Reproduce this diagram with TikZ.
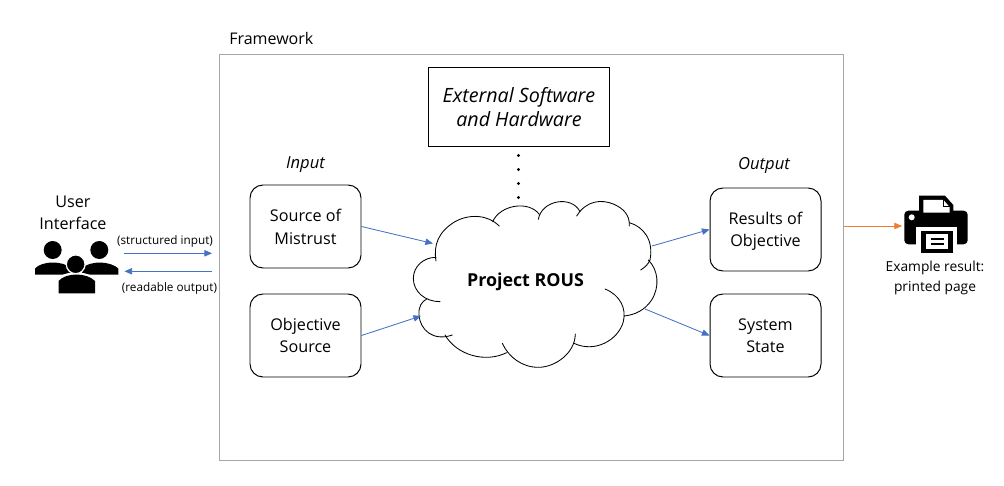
\documentclass[tikz,border=0pt]{standalone}
\usepackage{fontspec}
\setmainfont{Open Sans}
\usetikzlibrary{arrows.meta,positioning}
\definecolor{linkblue}{HTML}{4472C4}
\definecolor{linkorange}{HTML}{ED7D31}
\definecolor{framegray}{HTML}{A6A6A6}
\tikzset{
  boxfont/.style={font=\fontsize{11.5}{15.8}\selectfont, align=center},
  itfont/.style={font=\fontsize{11.8}{15.8}\selectfont\itshape},
  smallfont/.style={font=\fontsize{8.35}{10}\selectfont, align=center},
  stagebox/.style={draw=black, line width=0.7pt, rounded corners=3.25mm, minimum width=27.75mm, minimum height=20.75mm, inner sep=0pt, boxfont},
  cloudline/.style={line width=0.6pt, line cap=round},
  bluelink/.style={draw=linkblue, line width=0.6pt, -{Triangle[length=1.9mm,width=1.6mm]}},
  orangelink/.style={draw=linkorange, line width=0.4pt, -{Triangle[length=1.9mm,width=1.6mm]}},
}
\begin{document}
\begin{tikzpicture}[x=0.25mm, y=-0.25mm]
\useasboundingbox (0,0) rectangle (1004,486);

% === FRAMEWORK ===
\node[draw=framegray, line width=0.7pt, minimum width=155.9mm, minimum height=101.4mm, inner sep=0pt] (framework) at (531.25,257.25) {};
\node[boxfont, anchor=west, inner sep=0pt, font=\fontsize{11.4}{15.8}\selectfont] (frameworklabel) at (229,38.5) {Framework};

\node[draw=black, line width=0.7pt, minimum width=45.25mm, minimum height=19.75mm, inner sep=0pt, align=center, font=\fontsize{14}{17}\selectfont\itshape] (external) at (519,107) {External Software\\and Hardware};
\foreach \y in {155.5,169.5,183.5,197.5}
  \fill (518.5,\y) circle (1.7);

% === INPUT / OUTPUT BOXES ===
\node[itfont] (inputlabel) at (305.5,165) {Input};
\node[stagebox] (mistrust) at (305.5,226.5) {\rule{0pt}{9.4pt}Source of\\Mistrust};
\node[stagebox] (objective) at (305.5,335.5) {Objective\\Source};
\node[itfont] (outputlabel) at (764,165) {Output};
\node[stagebox] (results) at (765.5,229.5) {\rule{0pt}{11.2pt}Results of\\Objective};
\node[stagebox] (state) at (765.5,335.5) {System\\State};

% === CLOUD ===
\begin{scope}[shift={(400,180)}, x=0.08333mm, y=-0.08333mm]
\draw[cloudline] (108,243) .. controls (100,195) and (115,155) .. (165,125) .. controls (210,100) and (265,105) .. (298,138);
\draw[cloudline] (278,125) .. controls (300,75) and (385,60) .. (418,103);
\draw[cloudline] (415,118) .. controls (425,60) and (515,45) .. (540,95);
\draw[cloudline] (530,108) .. controls (560,60) and (605,58) .. (640,72) .. controls (670,85) and (690,105) .. (688,138);
\draw[cloudline] (688,128) .. controls (730,140) and (762,180) .. (750,240) .. controls (745,252) and (735,262) .. (722,270);
\draw[cloudline] (745,240) .. controls (775,270) and (780,320) .. (755,360) .. controls (735,390) and (705,405) .. (672,408);
\draw[cloudline] (615,327) .. controls (660,345) and (680,385) .. (670,425) .. controls (655,480) and (585,520) .. (522,490);
\draw[cloudline] (526,462) .. controls (525,520) and (465,562) .. (415,562) .. controls (365,562) and (325,530) .. (307,490);
\draw[cloudline] (320,518) .. controls (255,550) and (170,525) .. (135,465);
\draw[cloudline] (157,465) .. controls (100,485) and (60,450) .. (57,405) .. controls (55,380) and (65,365) .. (80,357);
\draw[cloudline] (120,365) .. controls (75,365) and (40,335) .. (40,295) .. controls (40,260) and (70,232) .. (108,232);
\end{scope}
\node[font=\fontsize{12.7}{15}\selectfont\bfseries] (rous) at (525.5,282) {Project ROUS};

% cloud edge points
\coordinate (cloudin1) at (433,243.5);
\coordinate (cloudin2) at (421,316);
\coordinate (cloudout1) at (652,246);
\coordinate (cloudout2) at (645,309);

\draw[bluelink] (mistrust.east) -- (cloudin1);
\draw[bluelink] (objective.east) -- (cloudin2);
\draw[bluelink] (cloudout1) -- (results.west);
\draw[bluelink] (cloudout2) -- (state.west);

% === USER SIDE ===
\node[boxfont] (user) at (73,213) {User\\Interface};
\fill (52.7,250) circle (9);
\fill (99.3,250) circle (9);
\fill (35,274.5) -- (35,268.5) .. controls (38,265) and (45,262.5) .. (53,262.5) .. controls (60,262.5) and (67,264.5) .. (71,268) -- (71,274.5) -- cycle;
\fill (82,274.5) -- (82,268) .. controls (86,264.5) and (93,262.5) .. (100,262.5) .. controls (107,262.5) and (115,265) .. (118.3,268.5) -- (118.3,274.5) -- cycle;
\fill[white] (56,296) -- (56,279) .. controls (60,275) and (68,272.3) .. (76,272.3) .. controls (84,272.3) and (92,275) .. (97,279) -- (97,296) -- cycle;
\filldraw[draw=white, line width=0.9pt] (75.7,264.3) circle (9.4);
\fill (58.5,293.3) -- (58.5,281) .. controls (62,277) and (69,274.5) .. (76.5,274.5) .. controls (84,274.5) and (91,277) .. (95,281) -- (95,293.3) -- cycle;

\coordinate (userout) at (124,253.3);
\coordinate (userin) at (124.5,271.3);
\coordinate (fwin) at (212,253.3);
\coordinate (fwout) at (212,271.3);
\draw[bluelink] (userout) -- (fwin);
\draw[bluelink] (fwout) -- (userin);
\node[smallfont] (structured) at (165,241.5) {(structured input)};
\node[smallfont] (readable) at (169.5,288.5) {(readable output)};

% === PRINTER ===
\fill (919,212) -- (919,195.7) -- (945,195.7) -- (953.3,205) -- (953.3,212) -- cycle;
\fill[rounded corners=1mm] (904.3,210.7) rectangle (967.7,244.3);
\fill[white] (923.3,200) -- (943.5,200) -- (949.5,207) -- (949.5,212.7) -- (923.3,212.7) -- cycle;
\draw[line width=0.8pt] (943.5,199) -- (943.5,206.3) -- (950,206.3);
\fill[white] (911.7,217.3) circle (3);
\fill[white] (916,227.3) rectangle (956.7,253.3);
\fill (920.7,231) rectangle (952.7,253.3);
\fill[white] (925.7,234.3) rectangle (948.3,249.3);
\fill (930.7,238.3) rectangle (944.3,240.3);
\fill (930.7,243.3) rectangle (944.3,245.3);
\coordinate (printerin) at (902,226);
\coordinate (fwedge) at (framework.east |- printerin);
\draw[orangelink] (fwedge) -- (printerin);
\node[align=center, font=\fontsize{9.8}{14.2}\selectfont] (printed) at (935,278) {Example result:\\printed page};

\end{tikzpicture}
\end{document}
